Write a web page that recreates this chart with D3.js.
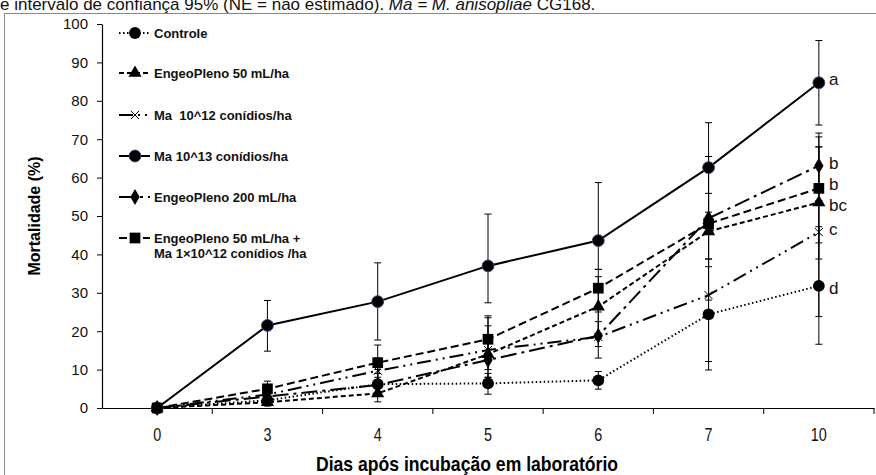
<!DOCTYPE html>
<html>
<head>
<meta charset="utf-8">
<script src="https://cdn.jsdelivr.net/npm/d3@7"></script>
<style>
  body { margin: 0; background: #fff; }
  svg { display: block; font-family: Arial, "Liberation Sans", sans-serif; }
</style>
</head>
<body>
<div id="app"></div>
<script>
const days = ['0', '3', '4', '5', '6', '7', '10']
const yTicks = [0, 10, 20, 30, 40, 50, 60, 70, 80, 90, 100]

// mean mortality (%) per treatment
const controle = [0, 2, 6.2, 6.4, 7.2, 24.4, 31.8]
const engeo50 = [0, 1.5, 3.8, 14, 26.4, 46, 53.5]
const ma12 = [0, 3.5, 9.7, 15.1, 18.5, 29.4, 45.8]
const ma13 = [0, 21.5, 27.7, 37, 43.6, 62.6, 84.7]
const engeo200 = [0, 3, 6, 12.5, 18.8, 49.4, 63.1]
const engeo50ma = [0, 5, 11.8, 17.9, 31.2, 48, 57.2]

// confidence interval bounds
const controleLo = [0, 1, 3, 3.6, 4.9, 9.9, 16.6]
const controleHi = [0, 3, 9, 9, 9.5, 38.8, 47.2]
const engeo50Lo = [0, 0.5, 1.6, 8, 18.2, 28.1, 38.8]
const engeo50Hi = [0, 3, 7, 21.4, 34.2, 55.9, 68]
const ma12Lo = [0, 2, 6.2, 10, 13, 12.1, 23.8]
const ma12Hi = [0, 5, 13, 23.5, 26, 47, 68]
const ma13Lo = [0, 14.8, 17.7, 27.4, 36.1, 51, 73.7]
const ma13Hi = [0, 28, 37.8, 50.5, 58.7, 74.3, 95.7]
const engeo200Lo = [0, 2, 3, 8, 16, 36.8, 54]
const engeo200Hi = [0, 5, 10, 17, 22.5, 65.5, 71.6]
const engeo50maLo = [0, 3, 8, 13, 25, 38.8, 43]
const engeo50maHi = [0, 7, 16.4, 24, 36.1, 65.5, 70.6]

const letters = ['d', 'bc', 'c', 'a', 'b', 'b']

const series = [
  {name: ['Controle'], values: controle, lo: controleLo, hi: controleHi,
   dash: '1.5,2.5', symbol: d3.symbolCircle, size: 110, letterDy: 2},
  {name: ['EngeoPleno 50 mL/ha'], values: engeo50, lo: engeo50Lo, hi: engeo50Hi,
   dash: '5,3', symbol: d3.symbolTriangle, size: 75, letterDy: 2},
  {name: ['Ma  10^12 conídios/ha'], values: ma12, lo: ma12Lo, hi: ma12Hi,
   dash: '14,5,2,5,2,5', symbol: d3.symbolX, size: 45, letterDy: -3},
  {name: ['Ma 10^13 conídios/ha'], values: ma13, lo: ma13Lo, hi: ma13Hi,
   dash: null, symbol: d3.symbolCircle, size: 110, letterDy: -4},
  {name: ['EngeoPleno 200 mL/ha'], values: engeo200, lo: engeo200Lo, hi: engeo200Hi,
   dash: '16,5,3,5', symbol: d3.symbolDiamond, size: 75, letterDy: -3},
  {name: ['EngeoPleno 50 mL/ha +', 'Ma 1×10^12 conídios /ha'], values: engeo50ma, lo: engeo50maLo, hi: engeo50maHi,
   dash: '8,4', symbol: d3.symbolSquare, size: 115, letterDy: -4}
]

const width = 876
const height = 475
const plot = {left: 102, right: 874, top: 24, bottom: 408}
const narrow = 0.8

const svg = d3.select('#app').append('svg')
  .attr('width', width)
  .attr('height', height)

// caption cut at top of the page (as in the source figure)
const cap = svg.append('text')
  .attr('x', 0)
  .attr('y', 10)
  .attr('font-size', 17)
  .attr('fill', '#111')
cap.append('tspan').text('e intervalo de confiança 95% (NE = não estimado). ')
cap.append('tspan').attr('font-style', 'italic').text('Ma = M. anisopliae')
cap.append('tspan').text(' CG168.')

svg.append('rect')
  .attr('x', 4.5).attr('y', 13.5)
  .attr('width', 900).attr('height', 500)
  .attr('fill', 'none')
  .attr('stroke', '#888')

const x = d3.scaleBand().domain(days).range([plot.left, plot.right])
const cx = d => x(d) + x.bandwidth() / 2
const y = d3.scaleLinear().domain([0, 100]).range([plot.bottom, plot.top])

// y axis
const yAxis = svg.append('g')
  .attr('transform', `translate(${plot.left},0)`)
  .call(d3.axisLeft(y).tickValues(yTicks).tickSize(5).tickSizeOuter(0).tickPadding(9))
yAxis.select('.domain').attr('stroke', '#000').attr('stroke-width', 1.2)
yAxis.selectAll('.tick line').attr('stroke', '#000')
yAxis.selectAll('.tick text')
  .attr('font-size', 15)
  .attr('font-family', 'Arial, "Liberation Sans", sans-serif')
  .attr('fill', '#111')

svg.append('text')
  .attr('transform', `translate(40,${(plot.top + plot.bottom) / 2}) rotate(-90)`)
  .attr('text-anchor', 'middle')
  .attr('font-size', 16)
  .attr('font-weight', 'bold')
  .text('Mortalidade (%)')

// x axis
const xAxis = svg.append('g')
  .attr('transform', `translate(0,${plot.bottom})`)
  .call(d3.axisBottom(x).tickSize(0).tickSizeOuter(0).tickPadding(20))
xAxis.select('.domain').attr('stroke', '#000').attr('stroke-width', 1.2)
xAxis.selectAll('.tick text')
  .attr('font-size', 18)
  .attr('transform', `scale(${narrow},1)`)
  .attr('fill', '#111')

svg.append('g')
  .selectAll('line')
  .data(days.slice(1).concat(['end']))
  .enter()
  .append('line')
  .attr('x1', d => d === 'end' ? plot.right : x(d))
  .attr('x2', d => d === 'end' ? plot.right : x(d))
  .attr('y1', plot.bottom)
  .attr('y2', plot.bottom + 6)
  .attr('stroke', '#000')

svg.append('g')
  .attr('transform', `translate(467,471) scale(0.88,1)`)
  .append('text')
  .attr('text-anchor', 'middle')
  .attr('font-size', 20)
  .attr('font-weight', 'bold')
  .text('Dias após incubação em laboratório')

// error bars
series.forEach(s => {
  const g = svg.append('g')
  const idx = days.map((d, i) => i).filter(i => s.hi[i] > s.lo[i])
  g.selectAll('line.v').data(idx).enter().append('line')
    .attr('x1', i => cx(days[i])).attr('x2', i => cx(days[i]))
    .attr('y1', i => y(s.lo[i])).attr('y2', i => y(s.hi[i]))
    .attr('stroke', '#000').attr('stroke-width', 1)
  ;['lo', 'hi'].forEach(k => {
    g.selectAll('line.' + k).data(idx).enter().append('line')
      .attr('x1', i => cx(days[i]) - 3.5).attr('x2', i => cx(days[i]) + 3.5)
      .attr('y1', i => y(s[k][i])).attr('y2', i => y(s[k][i]))
      .attr('stroke', '#000').attr('stroke-width', 1)
  })
})

// lines
const line = d3.line().x((d, i) => cx(days[i])).y(d => y(d))
series.forEach(s => {
  svg.append('path')
    .datum(s.values)
    .attr('d', line)
    .attr('fill', 'none')
    .attr('stroke', '#000')
    .attr('stroke-width', 2)
    .attr('stroke-dasharray', s.dash)
})

// markers
function drawMarker(g, s, px, py) {
  const isX = s.symbol === d3.symbolX
  g.append('path')
    .attr('d', d3.symbol().type(s.symbol).size(s.size)())
    .attr('transform', `translate(${px},${py})`)
    .attr('fill', isX ? 'none' : '#000')
    .attr('stroke', isX ? '#000' : (s.values === ma13 ? '#4a3870' : 'none'))
    .attr('stroke-width', 1)
}

series.forEach(s => {
  const g = svg.append('g')
  s.values.forEach((v, i) => drawMarker(g, s, cx(days[i]), y(v)))
})

// significance letters
svg.append('g')
  .selectAll('text')
  .data(series)
  .enter()
  .append('text')
  .attr('x', 829)
  .attr('y', d => y(d.values[d.values.length - 1]) + d.letterDy)
  .attr('dy', '0.35em')
  .attr('font-size', 17)
  .attr('fill', '#111')
  .text((d, i) => letters[i])

// legend
const legendRows = [33, 73, 115, 156, 197, 238]
const legend = svg.append('g')
series.forEach((s, i) => {
  const ly = legendRows[i]
  legend.append('line')
    .attr('x1', 119).attr('x2', 150)
    .attr('y1', ly).attr('y2', ly)
    .attr('stroke', '#000').attr('stroke-width', 2)
    .attr('stroke-dasharray', s.dash)
  drawMarker(legend, s, 135, ly)
  s.name.forEach((t, j) => {
    legend.append('text')
      .attr('x', 154)
      .attr('y', ly + j * 15)
      .attr('dy', '0.35em')
      .attr('font-size', 13)
      .attr('font-weight', 'bold')
      .attr('fill', '#111')
      .style('white-space', 'pre')
      .text(t)
  })
})
</script>
</body>
</html>
